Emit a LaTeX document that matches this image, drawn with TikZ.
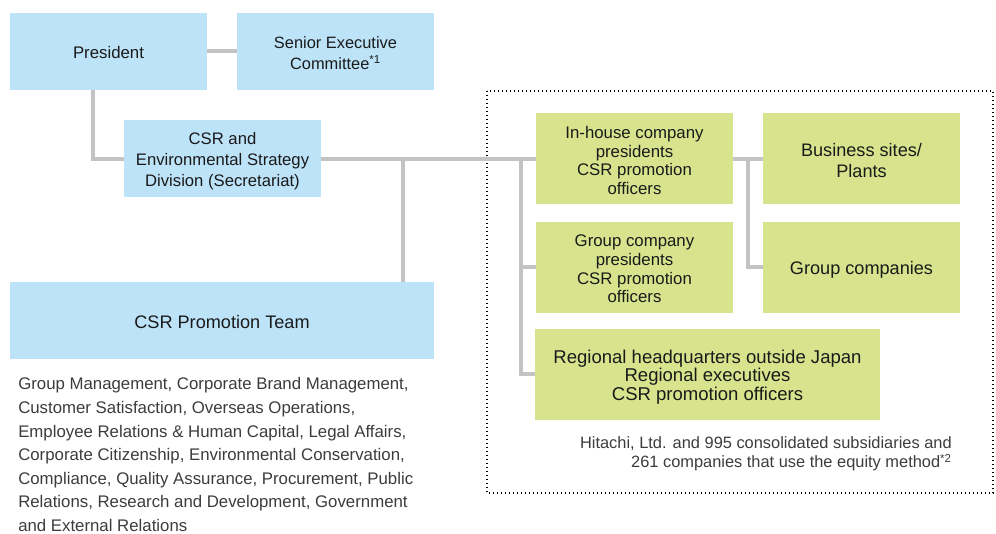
\documentclass[tikz,border=0pt]{standalone}
\usepackage{fontspec}
\setmainfont{Liberation Sans}
\definecolor{boxblue}{RGB}{189,227,248}
\definecolor{boxgreen}{RGB}{216,228,141}
\definecolor{linegray}{RGB}{195,195,195}
\definecolor{txt}{RGB}{26,26,26}
\definecolor{graytxt}{RGB}{60,60,60}
\newcommand{\fs}[2]{\fontsize{#1}{#2}\selectfont}
\begin{document}
\begin{tikzpicture}[x=0.75pt,y=-0.75pt,
  bluebox/.style={fill=boxblue,draw=none,inner sep=0pt},
  greenbox/.style={fill=boxgreen,draw=none,inner sep=0pt},
  lbl/.style={align=center,text=txt,inner sep=0pt},
  smallbox/.style={minimum width=147.75pt,minimum height=57.75pt},
  gbox/.style={minimum width=147.75pt,minimum height=68.25pt},
  conn/.style={draw=linegray,line width=3pt,line join=miter},
  framebox/.style={draw=black,line width=1pt,dash pattern=on 1pt off 2pt},
  listtxt/.style={anchor=base west,inner sep=0pt,text=graytxt,font=\fs{12.6}{18}},
  foottxt/.style={anchor=base east,inner sep=0pt,text=graytxt,font=\fs{12.3}{14.5}}]
\useasboundingbox (0,0) rectangle (996,534);

% dotted frame
\draw[framebox] (487,91) rectangle (993,493);

% blue boxes
\node[bluebox,smallbox,label={[lbl,yshift=-0.6pt,font=\fs{12.6}{15.75}]center:President}] (pres) at (108.5,51.5) {};
\node[bluebox,smallbox,label={[lbl,yshift=-1.1pt,font=\fs{12.3}{15.75}]center:{Senior Executive\\Committee\textsuperscript{*1}}}] (sec) at (335.5,51.5) {};
\node[bluebox,smallbox,label={[lbl,yshift=-1.5pt,font=\fs{12.5}{15.75}]center:{CSR and\\Environmental Strategy\\Division (Secretariat)}}] (csr) at (222.5,159) {};
\node[bluebox,minimum width=318pt,minimum height=57.75pt,label={[lbl,yshift=-1.5pt,font=\fs{13.6}{15.75}]center:CSR Promotion Team}] (team) at (222,320.5) {};

% green boxes
\node[greenbox,gbox,label={[lbl,yshift=-1.1pt,font=\fs{12.6}{14}]center:{In-house company\\presidents\\CSR promotion\\officers}}] (inh) at (634.5,159) {};
\node[greenbox,gbox,label={[lbl,yshift=-1.1pt,font=\fs{13.6}{15.75}]center:{Business sites/\\Plants}}] (bus) at (861.5,159) {};
\node[greenbox,gbox,label={[lbl,yshift=-1.1pt,font=\fs{12.6}{14}]center:{Group company\\presidents\\CSR promotion\\officers}}] (gp) at (634.5,267.5) {};
\node[greenbox,gbox,label={[lbl,yshift=-1.9pt,font=\fs{13.6}{15.75}]center:Group companies}] (gco) at (861.5,267.5) {};
\node[greenbox,minimum width=258.75pt,minimum height=68.25pt,label={[lbl,yshift=-1.9pt,font=\fs{13.9}{14}]center:{Regional headquarters outside Japan\\Regional executives\\CSR promotion officers}}] (reg) at (707.5,374.5) {};

% connectors
\coordinate (j1) at (93,159);
\coordinate (j2) at (403,159);
\coordinate (j3) at (521,159);
\coordinate (j4) at (748,159);
\draw[conn] (pres.east) -- (sec.west);
\draw[conn] (pres.south -| j1) -- (j1) -- (csr.west);
\draw[conn] (csr.east) -- (inh.west);
\draw[conn] (j2) -- (j2 |- team.north);
\draw[conn] (j3) |- (reg.west);
\draw[conn] (j3 |- gp.west) -- (gp.west);
\draw[conn] (inh.east) -- (bus.west);
\draw[conn] (j4) |- (gco.west);

% list below team
\node[listtxt] (l1) at (18,390) {Group Management, Corporate Brand Management,};
\node[listtxt] (l2) at (18,413.5) {Customer Satisfaction, Overseas Operations,};
\node[listtxt] (l3) at (18,437) {Employee Relations \& Human Capital, Legal Affairs,};
\node[listtxt] (l4) at (18,460.5) {Corporate Citizenship, Environmental Conservation,};
\node[listtxt] (l5) at (18,484) {Compliance, Quality Assurance, Procurement, Public};
\node[listtxt] (l6) at (18,507.5) {Relations, Research and Development, Government};
\node[listtxt] (l7) at (18,531) {and External Relations};

% footnote text
\node[foottxt] (f1) at (952,448.5) {Hitachi, Ltd. and 995 consolidated subsidiaries and};
\node[foottxt] (f2) at (952,468) {261 companies that use the equity method\textsuperscript{*2}};
\end{tikzpicture}
\end{document}
